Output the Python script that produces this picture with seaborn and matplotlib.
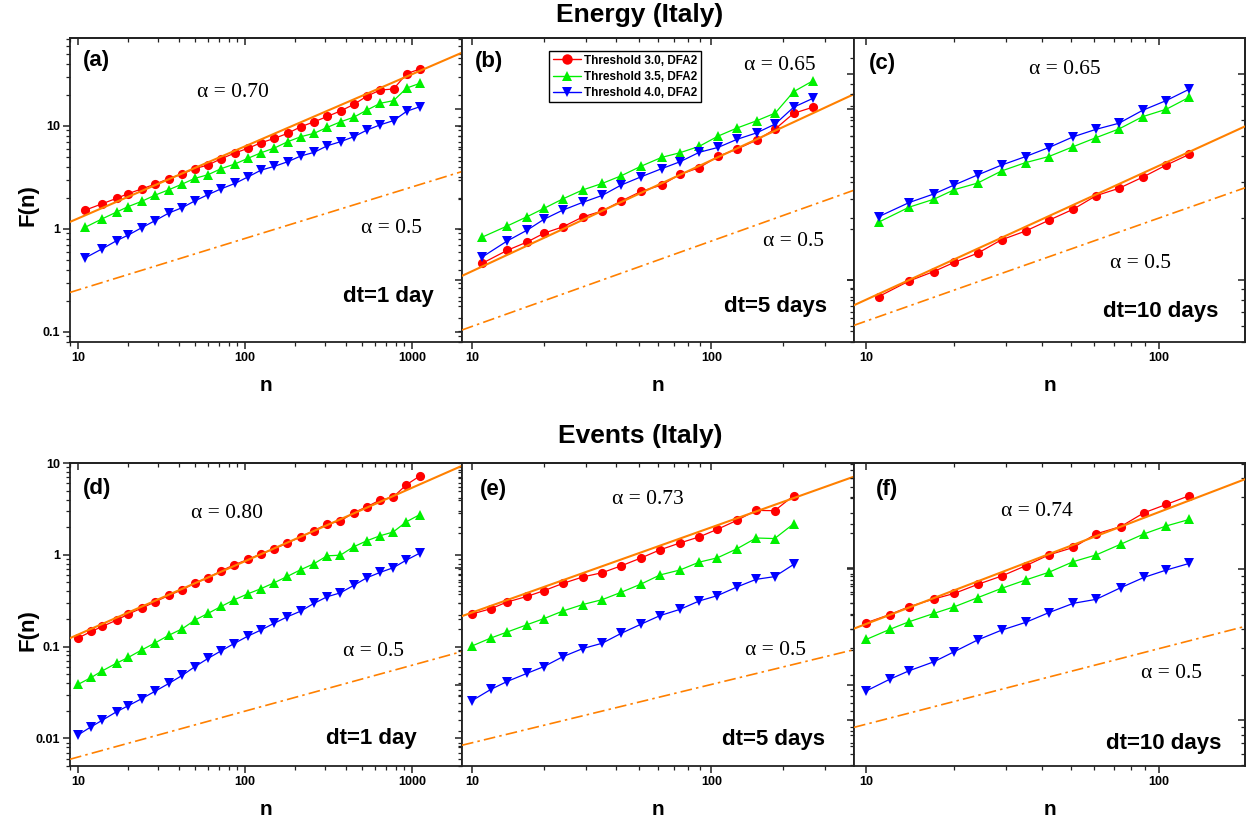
import numpy as np
import pandas as pd
import matplotlib
matplotlib.use("Agg")
import matplotlib.pyplot as plt
from matplotlib.lines import Line2D
from matplotlib.ticker import LogLocator, NullFormatter, FuncFormatter
import seaborn as sns

sns.set_theme(style="ticks")
plt.rcParams["font.family"] = ["Liberation Sans", "DejaVu Sans"]
plt.rcParams["axes.linewidth"] = 1.3
for k in ("text.color", "axes.labelcolor", "xtick.color", "ytick.color", "axes.edgecolor"):
    plt.rcParams[k] = "black"

series_labels = ["Threshold 3.0, DFA2", "Threshold 3.5, DFA2", "Threshold 4.0, DFA2"]
series_colors = ["#ff0000", "#00f000", "#0000ff"]
series_markers = ["o", "^", "v"]

# ---- Energy, dt = 1 day
n_a = [11, 14, 17, 20, 24, 29, 35, 42, 50, 60, 72, 87, 104, 125, 150, 180, 216, 259,
       311, 373, 448, 538, 645, 774, 929, 1115]
a30 = [1.51, 1.75, 1.97, 2.19, 2.43, 2.71, 3.06, 3.40, 3.83, 4.15, 4.78, 5.43, 6.03,
       6.84, 7.53, 8.43, 9.78, 10.9, 12.3, 13.9, 16.1, 19.4, 22.2, 22.7, 32.0, 35.5]
a35 = [1.03, 1.25, 1.45, 1.64, 1.84, 2.12, 2.39, 2.71, 3.08, 3.34, 3.83, 4.25, 4.82,
       5.47, 6.07, 6.99, 7.82, 8.43, 9.64, 10.9, 12.1, 14.2, 16.5, 17.5, 23.2, 25.8]
a40 = [0.519, 0.64, 0.764, 0.868, 1.02, 1.20, 1.42, 1.60, 1.86, 2.14, 2.44, 2.75, 3.18,
       3.71, 4.03, 4.47, 5.08, 5.51, 6.39, 6.99, 7.82, 9.08, 10.2, 11.2, 13.8, 15.3]

# ---- Energy, dt = 5 days
n_b = [11, 14, 17, 20, 24, 29, 35, 42, 51, 62, 74, 89, 107, 128, 155, 185, 221, 266]
b30 = [1.25, 1.49, 1.67, 1.88, 2.05, 2.34, 2.54, 2.90, 3.31, 3.60, 4.16, 4.55, 5.31,
       5.85, 6.61, 7.67, 9.48, 10.3]
b35 = [1.78, 2.07, 2.35, 2.63, 2.99, 3.37, 3.68, 4.08, 4.65, 5.23, 5.57, 6.07, 6.98,
       7.77, 8.58, 9.51, 12.7, 14.7]
b40 = [1.36, 1.69, 1.96, 2.27, 2.57, 2.85, 3.13, 3.60, 4.03, 4.49, 4.93, 5.60, 5.99,
       6.67, 7.29, 8.20, 10.3, 11.6]

# ---- Energy, dt = 10 days
n_c = [11, 14, 17, 20, 24, 29, 35, 42, 51, 61, 73, 88, 106, 127]
c30 = [0.830, 0.99, 1.10, 1.22, 1.35, 1.57, 1.73, 1.95, 2.21, 2.57, 2.79, 3.16, 3.62, 4.08]
c35 = [1.91, 2.26, 2.47, 2.75, 2.96, 3.39, 3.72, 3.98, 4.45, 4.92, 5.42, 6.22, 6.76, 7.73]
c40 = [2.03, 2.38, 2.62, 2.90, 3.24, 3.62, 3.98, 4.40, 4.97, 5.40, 5.78, 6.68, 7.45, 8.46]

# ---- Events, dt = 1 day
n_d = [10, 12, 14, 17, 20, 24, 29, 35, 42, 50, 60, 72, 86, 104, 124, 149, 179, 215,
       258, 310, 372, 446, 535, 642, 770, 924, 1109]
d30 = [0.124, 0.146, 0.166, 0.194, 0.226, 0.262, 0.308, 0.361, 0.416, 0.491, 0.561,
       0.669, 0.778, 0.889, 1.02, 1.16, 1.34, 1.57, 1.83, 2.16, 2.33, 2.87, 3.33, 3.94,
       4.25, 5.79, 7.19]
d35 = [0.0387, 0.0461, 0.0545, 0.066, 0.0762, 0.0916, 0.110, 0.133, 0.156, 0.194, 0.230,
       0.274, 0.323, 0.376, 0.426, 0.495, 0.581, 0.687, 0.798, 0.975, 0.99, 1.22, 1.42,
       1.61, 1.77, 2.29, 2.73]
d40 = [0.0109, 0.0134, 0.0158, 0.0195, 0.0227, 0.027, 0.0327, 0.0397, 0.0485, 0.0603,
       0.0743, 0.090, 0.108, 0.130, 0.151, 0.179, 0.211, 0.243, 0.295, 0.349, 0.385,
       0.463, 0.561, 0.642, 0.722, 0.875, 1.04]

# ---- Events, dt = 5 days
n_e = [10, 12, 14, 17, 20, 24, 29, 35, 42, 51, 61, 74, 89, 106, 128, 154, 184, 221]
e30 = [0.406, 0.451, 0.514, 0.575, 0.644, 0.743, 0.843, 0.918, 1.05, 1.23, 1.44, 1.65,
       1.86, 2.16, 2.58, 3.14, 3.12, 4.20]
e35 = [0.216, 0.253, 0.284, 0.329, 0.371, 0.431, 0.489, 0.539, 0.623, 0.735, 0.877,
       0.968, 1.13, 1.23, 1.47, 1.82, 1.80, 2.41]
e40 = [0.0734, 0.0918, 0.107, 0.126, 0.144, 0.175, 0.205, 0.228, 0.277, 0.333, 0.393,
       0.445, 0.525, 0.583, 0.692, 0.805, 0.849, 1.08]

# ---- Events, dt = 10 days
n_f = [10, 12, 14, 17, 20, 24, 29, 35, 42, 51, 61, 74, 89, 106, 127]
f30 = [0.441, 0.499, 0.563, 0.633, 0.690, 0.791, 0.899, 1.05, 1.24, 1.39, 1.71, 1.91,
       2.36, 2.68, 3.06]
f35 = [0.342, 0.398, 0.448, 0.508, 0.563, 0.646, 0.745, 0.846, 0.951, 1.12, 1.24, 1.46,
       1.71, 1.93, 2.13]
f40 = [0.156, 0.186, 0.212, 0.243, 0.284, 0.339, 0.394, 0.443, 0.514, 0.593, 0.630,
       0.752, 0.881, 0.985, 1.09]

# power-law guides: (exponent, prefactor)
fit_alpha = {"a": (0.70, 0.251), "b": (0.65, 0.252), "c": (0.65, 0.180),
             "d": (0.80, 0.0214), "e": (0.73, 0.0778), "f": (0.74, 0.0789)}
ref_half = {"a": 0.0804, "b": 0.169, "c": 0.200, "d": 0.00198, "e": 0.0101, "f": 0.0297}

dt_labels = {"a": "dt=1 day", "b": "dt=5 days", "c": "dt=10 days",
             "d": "dt=1 day", "e": "dt=5 days", "f": "dt=10 days"}

panels = {
    "a": (n_a, [a30, a35, a40]), "b": (n_b, [b30, b35, b40]), "c": (n_c, [c30, c35, c40]),
    "d": (n_d, [d30, d35, d40]), "e": (n_e, [e30, e35, e40]), "f": (n_f, [f30, f35, f40]),
}

xlims = {"a": (8.95, 1990), "b": (9.08, 395), "c": (9.07, 197),
         "d": (8.95, 1990), "e": (9.08, 395), "f": (9.07, 197)}
ylims = {"a": (0.0794, 71.0), "b": (0.433, 26.2), "c": (0.50, 15.0),
         "d": (0.005, 10.0), "e": (0.0202, 8.0), "f": (0.0496, 5.04)}

W, H = 1252, 826
fig = plt.figure(figsize=(W / 100, H / 100), dpi=100)
fig.patch.set_facecolor("white")

col_px = {"a": (70, 462), "b": (462, 854), "c": (854, 1245),
          "d": (70, 462), "e": (462, 854), "f": (854, 1245)}
row_px = {"a": (38, 342), "b": (38, 342), "c": (38, 342),
          "d": (463, 766), "e": (463, 766), "f": (463, 766)}

# text placements in axes fraction: (label), alpha fit, alpha 0.5, dt
text_pos = {
    "a": [(0.033, 0.925), (0.416, 0.822), (0.821, 0.372), (0.811, 0.151)],
    "b": [(0.033, 0.922), (0.811, 0.911), (0.845, 0.330), (0.800, 0.116)],
    "c": [(0.038, 0.917), (0.538, 0.895), (0.733, 0.259), (0.785, 0.100)],
    "d": [(0.033, 0.917), (0.400, 0.832), (0.774, 0.377), (0.769, 0.091)],
    "e": [(0.046, 0.911), (0.475, 0.880), (0.800, 0.380), (0.794, 0.088)],
    "f": [(0.056, 0.911), (0.468, 0.839), (0.812, 0.306), (0.793, 0.075)],
}

palette = dict(zip(series_labels, series_colors))
markers = dict(zip(series_labels, series_markers))
orange = "#ff8000"
tick_fmt = FuncFormatter(lambda v, p: f"{v:g}")
serif = ["Liberation Serif", "DejaVu Serif"]

for key, (n_vals, ys) in panels.items():
    x0, x1 = col_px[key]
    y0, y1 = row_px[key]
    ax = fig.add_axes([x0 / W, 1 - y1 / H, (x1 - x0) / W, (y1 - y0) / H])
    ax.set_xscale("log")
    ax.set_yscale("log")

    df = pd.DataFrame({
        "n": list(n_vals) * 3,
        "F": ys[0] + ys[1] + ys[2],
        "series": sum([[lab] * len(n_vals) for lab in series_labels], []),
    })
    sns.lineplot(data=df, x="n", y="F", hue="series", style="series",
                 palette=palette, markers=markers, dashes=False, sort=False,
                 linewidth=0.9, markersize=6.6, markeredgewidth=0,
                 legend=False, ax=ax, zorder=2)

    xs = np.geomspace(*xlims[key], 60)
    alpha, pref = fit_alpha[key]
    ax.plot(xs, pref * xs ** alpha, color=orange, lw=1.5, zorder=3)
    ax.plot(xs, ref_half[key] * xs ** 0.5, color=orange, lw=1.2,
            ls=(0, (7, 2.5, 1.5, 2.5)), zorder=3)

    ax.set_xlim(*xlims[key])
    ax.set_ylim(*ylims[key])

    for sp in ax.spines.values():
        sp.set_color("#222222")
        sp.set_linewidth(1.3)

    ax.xaxis.set_major_locator(LogLocator(base=10))
    ax.xaxis.set_minor_locator(LogLocator(base=10, subs=np.arange(2, 10)))
    ax.yaxis.set_major_locator(LogLocator(base=10))
    ax.yaxis.set_minor_locator(LogLocator(base=10, subs=np.arange(2, 10)))
    ax.xaxis.set_major_formatter(tick_fmt)
    ax.yaxis.set_major_formatter(tick_fmt)
    ax.xaxis.set_minor_formatter(NullFormatter())
    ax.yaxis.set_minor_formatter(NullFormatter())
    ax.tick_params(which="major", direction="out", length=5, width=1.1, color="#222222",
                   labelsize=9, pad=2)
    ax.tick_params(which="minor", direction="out", length=3, width=0.9, color="#222222")
    for lab in ax.get_xticklabels() + ax.get_yticklabels():
        lab.set_fontweight("bold")
    if key not in ("a", "d"):
        ax.tick_params(labelleft=False)

    # inward ticks along the top and right edges
    top = ax.secondary_xaxis("top")
    right = ax.secondary_yaxis("right")
    for sec, axis in ((top, top.xaxis), (right, right.yaxis)):
        axis.set_major_locator(LogLocator(base=10))
        axis.set_minor_locator(LogLocator(base=10, subs=np.arange(2, 10)))
        axis.set_major_formatter(NullFormatter())
        axis.set_minor_formatter(NullFormatter())
        sec.tick_params(which="major", direction="in", length=5, width=1.1, color="#222222")
        sec.tick_params(which="minor", direction="in", length=3, width=0.9, color="#222222")
        for sp in sec.spines.values():
            sp.set_color("#222222")
            sp.set_linewidth(1.3)

    ax.set_xlabel("n", fontsize=15, fontweight="bold", va="center")
    ax.xaxis.set_label_coords(0.5, -0.142)
    if key in ("a", "d"):
        ax.set_ylabel("F(n)", fontsize=16, fontweight="bold", va="center")
        ax.yaxis.set_label_coords(-0.107, 0.45)
    else:
        ax.set_ylabel("")

    p_lab, p_fit, p_half, p_dt = text_pos[key]
    ax.text(*p_lab, f"({key})", transform=ax.transAxes, ha="left", va="center",
            fontsize=16, fontweight="bold")
    ax.text(*p_fit, f"\u03b1 = {alpha:.2f}", transform=ax.transAxes, ha="center",
            va="center", fontsize=15.5, family=serif)
    ax.text(*p_half, "\u03b1 = 0.5", transform=ax.transAxes, ha="center", va="center",
            fontsize=15.5, family=serif)
    ax.text(*p_dt, dt_labels[key], transform=ax.transAxes, ha="center", va="center",
            fontsize=16, fontweight="bold")

    if key == "b":
        handles = [Line2D([], [], color=c, marker=m, markersize=7.5, lw=1.0,
                          markeredgewidth=0)
                   for c, m in zip(series_colors, series_markers)]
        leg = ax.legend(handles, series_labels, loc="upper left",
                        bbox_to_anchor=(0.222, 0.957), frameon=True, fancybox=False,
                        edgecolor="black", framealpha=1, borderpad=0.3,
                        labelspacing=0.35, handlelength=2.4, handletextpad=0.3,
                        borderaxespad=0, prop={"weight": "bold", "size": 8.5})
        leg.get_frame().set_linewidth(1.0)

fig.text(0.511, 1 - 15 / H, "Energy (Italy)", ha="center", va="center",
         fontsize=19, fontweight="bold")
fig.text(0.511, 1 - 436 / H, "Events (Italy)", ha="center", va="center",
         fontsize=19, fontweight="bold")

fig.savefig("out.png", dpi=100, facecolor="white")
